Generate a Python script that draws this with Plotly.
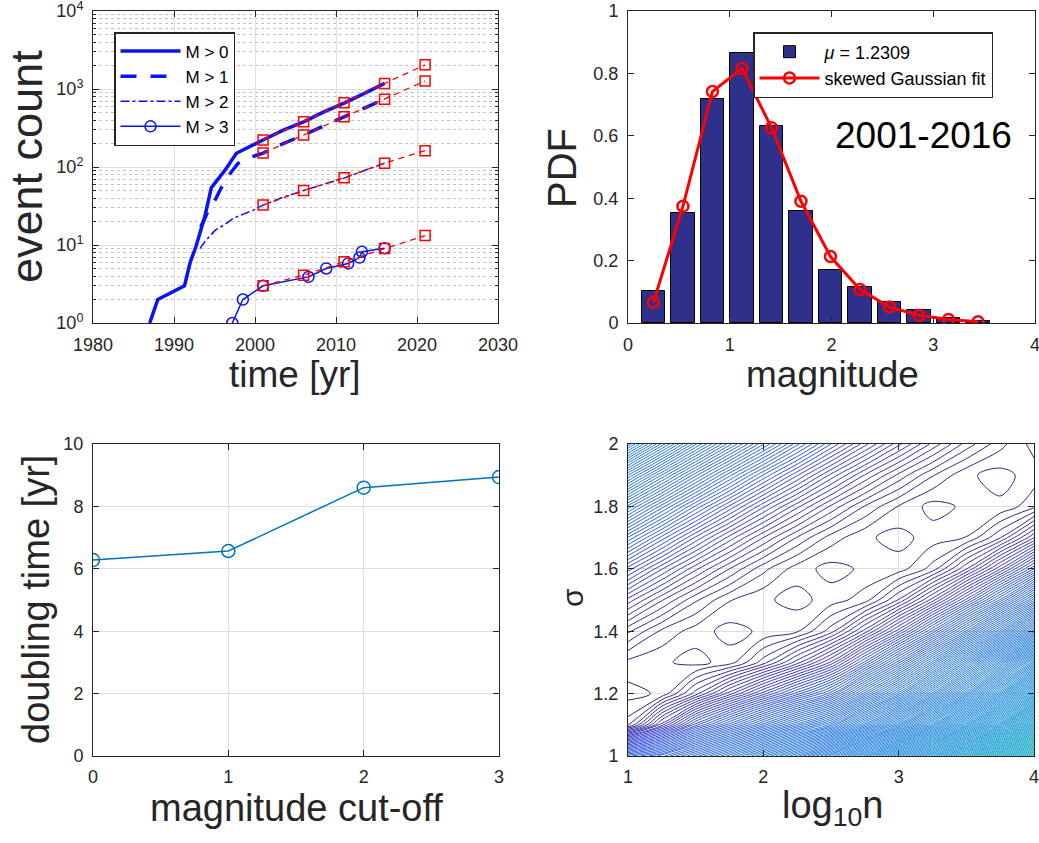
import plotly.graph_objects as go

# ---------------- Panel A: cumulative event counts ----------------
yr_m0 = [1987.0, 1988.0, 1991.3, 1992.0, 1992.7, 1993.8, 1994.6, 1996.3, 1997.7, 1999.4,
         2001.0, 2003.5, 2006.0, 2008.5, 2011.0, 2013.5, 2016.0]
n_m0 = [1, 2, 3, 6, 9.5, 23, 54, 91, 150, 186, 222, 297, 380, 510, 660, 880, 1180]

yr_m1 = [1993.3, 1994.2, 1995.2, 1996.3, 1997.9, 1999.0, 2001.0, 2003.5, 2006.0, 2008.5,
         2011.0, 2013.5, 2016.0]
n_m1 = [17, 27, 40, 68, 111, 128, 151, 200, 257, 340, 440, 570, 740]

yr_m2 = [1993.2, 1993.8, 1995.1, 1996.5, 1997.3, 1999.8, 2001.0, 2003.5, 2006.0, 2008.5,
         2011.0, 2013.5, 2016.0]
n_m2 = [9, 11, 15.5, 19, 22, 28, 32.5, 41, 50, 60, 72, 90, 112]

yr_m3 = [1997.2, 1998.5, 2001.0, 2006.6, 2008.8, 2011.5, 2012.9, 2013.2, 2016.0]
n_m3 = [1, 2, 3, 3.9, 5, 5.8, 6.9, 8.2, 9.1]

fit_years = [2001, 2006, 2011, 2016, 2021]
fit_m0 = [222, 380, 665, 1180, 2040]
fit_m1 = [151, 257, 440, 740, 1267]
fit_m2 = [32.5, 50, 73, 112, 162]
fit_m3 = [3.0, 4.1, 6.1, 9.0, 13.2]

legend_names = ["M > 0", "M > 1", "M > 2", "M > 3"]

# ---------------- Panel B: magnitude PDF ----------------
mag_centers = [0.25, 0.54, 0.83, 1.12, 1.41, 1.70, 1.99, 2.28, 2.57, 2.86, 3.15, 3.44]
pdf_bars = [0.104, 0.352, 0.718, 0.864, 0.633, 0.36, 0.171, 0.115, 0.066, 0.041, 0.016, 0.006]
pdf_fit = [0.066, 0.374, 0.742, 0.816, 0.626, 0.39, 0.213, 0.107, 0.051, 0.025, 0.011, 0.004]
bar_label = "<i>μ</i> = 1.2309"
fit_label = "skewed Gaussian fit"
period_label = "2001-2016"

# ---------------- Panel C: doubling time ----------------
cutoff = [0, 1, 2, 3]
doubling = [6.28, 6.57, 8.6, 8.94]

# ---------------- Panel D: misfit surface ----------------
log10n = [1.0, 1.25, 1.5, 1.75, 2.0, 2.25, 2.5, 2.75, 3.0, 3.25, 3.5, 3.75, 4.0]
sigma = [1.0, 1.1, 1.2, 1.3, 1.4, 1.5, 1.6, 1.7, 1.8, 1.9, 2.0]
misfit = [
    [26.0, 30.0, 36.0, 42.0, 49.0, 56.0, 64.0, 75.0, 86.0, 98.0, 112.0, 128.0, 145.0],
    [2.0, 10.0, 18.0, 24.0, 30.0, 36.0, 42.0, 52.0, 62.0, 74.0, 87.0, 102.0, 120.0],
    [0.1, 0.7, 5.0, 10.0, 15.0, 20.0, 25.0, 34.0, 43.0, 54.0, 66.0, 80.0, 96.0],
    [1.17, 0.7, 0.1, 1.0, 4.0, 8.0, 12.7, 19.8, 28.1, 37.8, 48.9, 61.1, 74.7],
    [4.68, 2.26, 1.0, 0.1, 0.7, 1.35, 4.0, 8.9, 15.1, 22.7, 31.7, 41.7, 53.1],
    [10.1, 6.6, 3.67, 1.57, 0.7, 0.1, 1.0, 2.0, 5.6, 11.0, 17.8, 25.7, 35.1],
    [17.0, 12.6, 8.75, 5.5, 2.81, 1.0, 0.1, 0.7, 1.0, 2.9, 7.4, 13.3, 20.5],
    [25.4, 20.1, 15.3, 11.1, 7.5, 4.40, 2.04, 0.7, 0.1, 1.0, 1.53, 4.4, 9.4],
    [35.2, 29.0, 23.3, 18.3, 13.7, 9.8, 6.3, 3.42, 1.42, 0.1, 0.7, 0.7, 2.19],
    [46.5, 39.4, 32.8, 26.8, 21.4, 16.6, 12.2, 8.4, 5.2, 2.6, 0.7, 0.1, 1.0],
    [59.2, 51.2, 43.7, 36.9, 30.6, 24.8, 19.5, 14.9, 10.8, 7.2, 4.09, 1.86, 0.1],
]

# ---------------- styles ----------------
FONT = "Liberation Sans, Arial, Helvetica, sans-serif"
TXT = "#262626"
BLUE = "#0a14f0"
RED = "#ff0000"
MBLUE = "#0072BD"
NAVY = "#2f2f8c"
W, H = 1039, 843


def px_x(p):
    return p / W


def px_y(p):
    return 1 - p / H


fig = go.Figure()

# Panel A traces
fig.add_trace(go.Scatter(x=yr_m0, y=n_m0, mode="lines", name=legend_names[0],
                         line=dict(color=BLUE, width=3.5), xaxis="x", yaxis="y", legend="legend"))
fig.add_trace(go.Scatter(x=yr_m1, y=n_m1, mode="lines", name=legend_names[1],
                         line=dict(color=BLUE, width=3.5, dash="16px,14px"), xaxis="x", yaxis="y", legend="legend"))
fig.add_trace(go.Scatter(x=yr_m2, y=n_m2, mode="lines", name=legend_names[2],
                         line=dict(color=BLUE, width=1.5, dash="dashdot"), xaxis="x", yaxis="y", legend="legend"))
fig.add_trace(go.Scatter(x=yr_m3, y=n_m3, mode="lines+markers", name=legend_names[3],
                         line=dict(color=BLUE, width=1.5),
                         marker=dict(symbol="circle-open", size=11, color=BLUE, line=dict(width=1.5)),
                         xaxis="x", yaxis="y", legend="legend"))
for fv in [fit_m0, fit_m1, fit_m2, fit_m3]:
    fig.add_trace(go.Scatter(x=fit_years, y=fv, mode="lines+markers", showlegend=False,
                             line=dict(color=RED, width=1.3, dash="6px,5px"),
                             marker=dict(symbol="square-open", size=10, color=RED, line=dict(width=1.5)),
                             xaxis="x", yaxis="y"))

# Panel B traces
fig.add_trace(go.Bar(x=mag_centers, y=pdf_bars, width=0.232, name=bar_label,
                     marker=dict(color=NAVY, line=dict(color="black", width=1)),
                     xaxis="x2", yaxis="y2", legend="legend2"))
fig.add_trace(go.Scatter(x=mag_centers, y=pdf_fit, mode="lines+markers", name=fit_label,
                         line=dict(color=RED, width=3),
                         marker=dict(symbol="circle-open", size=11, color=RED, line=dict(width=2.5)),
                         xaxis="x2", yaxis="y2", legend="legend2"))

# Panel C
fig.add_trace(go.Scatter(x=cutoff, y=doubling, mode="lines+markers", showlegend=False,
                         line=dict(color=MBLUE, width=1.5),
                         marker=dict(symbol="circle-open", size=13, color=MBLUE, line=dict(width=1.5)),
                         xaxis="x3", yaxis="y3"))

# Panel D
parula_part = [
    [0.0, "rgb(45,40,120)"], [0.028, "rgb(55,48,160)"], [0.083, "rgb(60,62,200)"],
    [0.152, "rgb(50,95,225)"], [0.276, "rgb(42,118,222)"], [0.414, "rgb(38,128,222)"],
    [0.62, "rgb(32,145,218)"], [0.83, "rgb(25,162,208)"], [1.0, "rgb(22,176,196)"],
]
fig.add_trace(go.Contour(x=log10n, y=sigma, z=misfit, showscale=False,
                         colorscale=parula_part, zmin=0, zmax=145, zauto=False,
                         contours=dict(start=0.5, end=145.5, size=1, coloring="lines"),
                         line=dict(width=1), hoverinfo="skip",
                         xaxis="x4", yaxis="y4"))

axis_common = dict(showline=True, linecolor=TXT, linewidth=1, mirror="ticks", ticks="inside",
                   ticklen=6, tickcolor=TXT, tickfont=dict(family=FONT, size=18, color=TXT),
                   zeroline=False, gridcolor="#dedede", gridwidth=1, automargin=False,
                   ticklabeloverflow="allow", ticklabelstandoff=5)
bottom_x = dict(axis_common, ticklabelstandoff=4)

dA_x = [px_x(93), px_x(498)]
dA_y = [px_y(323), px_y(11)]
dB_x = [px_x(628), px_x(1035)]
dC_x = [px_x(93), px_x(499)]
dC_y = [px_y(756), px_y(444)]
dD_x = [px_x(628), px_x(1034)]

minor_vals = [m * 10 ** e for e in range(4) for m in range(2, 10)]

fig.update_layout(
    width=W, height=H, margin=dict(l=0, r=0, t=0, b=0, pad=0, autoexpand=False),
    paper_bgcolor="white", plot_bgcolor="white",
    font=dict(family=FONT, color=TXT),
    xaxis=dict(domain=dA_x, anchor="y", range=[1980, 2030], tickvals=[1980, 1990, 2000, 2010, 2020, 2030],
               showgrid=True, **axis_common),
    yaxis=dict(domain=dA_y, anchor="x", type="log", range=[0, 4],
               tickvals=[1, 10, 100, 1000, 10000],
               ticktext=["10<sup>0</sup>", "10<sup>1</sup>", "10<sup>2</sup>", "10<sup>3</sup>", "10<sup>4</sup>"],
               showgrid=True,
               minor=dict(tickmode="array", tickvals=minor_vals, ticks="inside", ticklen=3,
                          tickcolor=TXT, showgrid=True, gridcolor="#c4c4c4", griddash="dot", gridwidth=1),
               **axis_common),
    xaxis2=dict(domain=dB_x, anchor="y2", range=[0, 4], tickvals=[0, 1, 2, 3, 4], showgrid=False, **axis_common),
    yaxis2=dict(domain=dA_y, anchor="x2", range=[0, 1], tickvals=[0, 0.2, 0.4, 0.6, 0.8, 1],
                ticktext=["0", "0.2", "0.4", "0.6", "0.8", "1"], showgrid=False, **axis_common),
    xaxis3=dict(domain=dC_x, anchor="y3", range=[0, 3], tickvals=[0, 1, 2, 3], showgrid=True, **bottom_x),
    yaxis3=dict(domain=dC_y, anchor="x3", range=[0, 10], tickvals=[0, 2, 4, 6, 8, 10], showgrid=True, **axis_common),
    xaxis4=dict(domain=dD_x, anchor="y4", range=[1, 4], tickvals=[1, 2, 3, 4], showgrid=True, **bottom_x),
    yaxis4=dict(domain=dC_y, anchor="x4", range=[1, 2], tickvals=[1, 1.2, 1.4, 1.6, 1.8, 2],
                ticktext=["1", "1.2", "1.4", "1.6", "1.8", "2"], showgrid=True, **axis_common),
    bargap=0,
    legend=dict(x=px_x(114), y=px_y(32), xanchor="left", yanchor="top", bgcolor="white",
                bordercolor="#262626", borderwidth=1.5, font=dict(family=FONT, size=17, color="black"),
                itemwidth=60, tracegroupgap=0),
    legend2=dict(x=px_x(753), y=px_y(32), xanchor="left", yanchor="top", bgcolor="white",
                 bordercolor="#262626", borderwidth=1.5, font=dict(family=FONT, size=18, color="black"),
                 itemwidth=60, tracegroupgap=0),
)

annots = [
    dict(text="event count", x=px_x(26), y=px_y(167), textangle=-90, size=45),
    dict(text="time [yr]", x=px_x(295), y=px_y(374), textangle=0, size=37),
    dict(text="PDF", x=px_x(562), y=px_y(168), textangle=-90, size=40),
    dict(text="magnitude", x=px_x(832), y=px_y(374), textangle=0, size=37),
    dict(text="doubling time [yr]", x=px_x(36), y=px_y(600), textangle=-90, size=38),
    dict(text="magnitude cut-off", x=px_x(296), y=px_y(808), textangle=0, size=38),
    dict(text="log<sub>10</sub>n", x=px_x(832), y=px_y(808), textangle=0, size=38),
]
for a in annots:
    sz = a.pop("size")
    fig.add_annotation(xref="paper", yref="paper", showarrow=False, xanchor="center", yanchor="middle",
                       font=dict(family=FONT, size=sz, color=TXT), **a)
fig.add_annotation(text="σ", xref="paper", yref="paper", x=px_x(572), y=px_y(598), showarrow=False,
                   xanchor="center", yanchor="middle",
                   textangle=-90, font=dict(family=FONT, size=30, color=TXT))
fig.add_annotation(text=period_label, xref="paper", yref="paper", x=px_x(923), y=px_y(135), showarrow=False,
                   xanchor="center", yanchor="middle",
                   font=dict(family=FONT, size=37, color="black"))

fig.write_html("out.html",
               config={"displayModeBar": False},
               post_script="document.body.style.margin='0';document.body.style.padding='0';"
                           "document.documentElement.style.overflow='hidden';")
